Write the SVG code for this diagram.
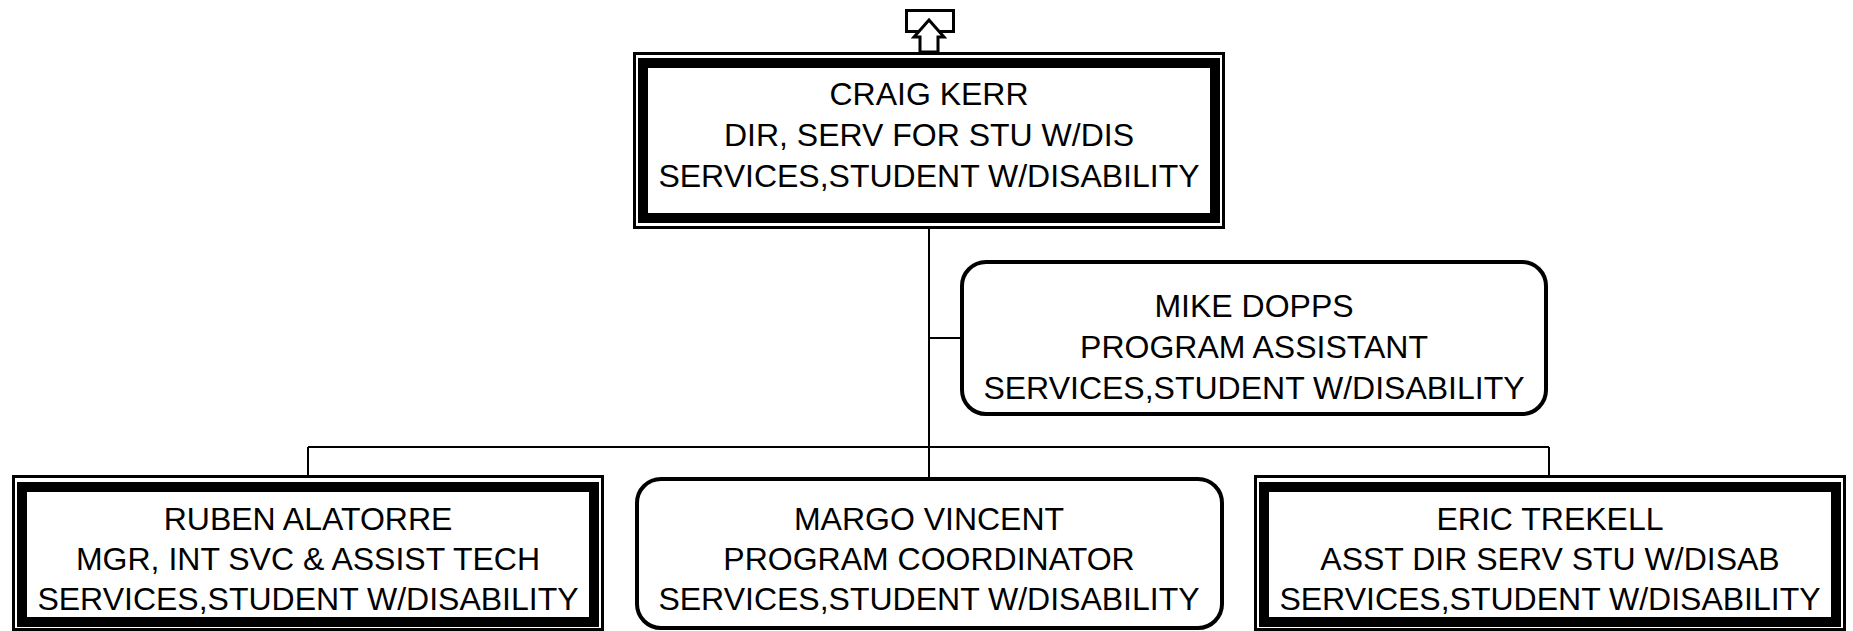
<svg xmlns="http://www.w3.org/2000/svg" width="1853" height="631" viewBox="0 0 1853 631">
<style>
.bg{fill:#fff}
.thin{fill:#fff;stroke:#000;stroke-width:3}
.thick{fill:none;stroke:#000;stroke-width:10}
.rnd{fill:#fff;stroke:#000;stroke-width:4}
.conn{fill:none;stroke:#000;stroke-width:2}
.t{font-family:"Liberation Sans",Arial,sans-serif;font-size:32px;fill:#000;text-anchor:middle}
</style>
<rect class="bg" x="0" y="0" width="1853" height="631"/>
<g id="connectors">
<path class="conn" d="M929 229 V477"/>
<path class="conn" d="M929 338 H960"/>
<path class="conn" d="M308 447 H1549"/>
<path class="conn" d="M308 447 V475"/>
<path class="conn" d="M1549 447 V475"/>
</g>
<g id="upicon">
<rect x="906.5" y="10.5" width="47" height="21" fill="none" stroke="#000" stroke-width="3"/>
<path d="M929 20 L944 37 L938 37 L938 52 L920 52 L920 37 L914 37 Z" fill="#fff" stroke="#000" stroke-width="3" stroke-linejoin="miter"/>
</g>
<g id="craig">
<rect class="thin" x="634.5" y="53.5" width="589" height="174"/>
<rect class="thick" x="643" y="63" width="572" height="155"/>
<text class="t" x="929" y="105">CRAIG KERR</text>
<text class="t" x="929" y="146">DIR, SERV FOR STU W/DIS</text>
<text class="t" x="929" y="187">SERVICES,STUDENT W/DISABILITY</text>
</g>
<g id="mike">
<rect class="rnd" x="962" y="262" width="584" height="152" rx="24" ry="24"/>
<text class="t" x="1254" y="317">MIKE DOPPS</text>
<text class="t" x="1254" y="358">PROGRAM ASSISTANT</text>
<text class="t" x="1254" y="399">SERVICES,STUDENT W/DISABILITY</text>
</g>
<g id="ruben">
<rect class="thin" x="13.5" y="476.5" width="589" height="153"/>
<rect class="thick" x="22" y="487" width="572" height="135"/>
<text class="t" x="308" y="530">RUBEN ALATORRE</text>
<text class="t" x="308" y="570">MGR, INT SVC &amp; ASSIST TECH</text>
<text class="t" x="308" y="610">SERVICES,STUDENT W/DISABILITY</text>
</g>
<g id="margo">
<rect class="rnd" x="637" y="479" width="585" height="149" rx="24" ry="24"/>
<text class="t" x="929" y="530">MARGO VINCENT</text>
<text class="t" x="929" y="570">PROGRAM COORDINATOR</text>
<text class="t" x="929" y="610">SERVICES,STUDENT W/DISABILITY</text>
</g>
<g id="eric">
<rect class="thin" x="1255.5" y="476.5" width="589" height="153"/>
<rect class="thick" x="1264" y="487" width="572" height="135"/>
<text class="t" x="1550" y="530">ERIC TREKELL</text>
<text class="t" x="1550" y="570">ASST DIR SERV STU W/DISAB</text>
<text class="t" x="1550" y="610">SERVICES,STUDENT W/DISABILITY</text>
</g>
</svg>
